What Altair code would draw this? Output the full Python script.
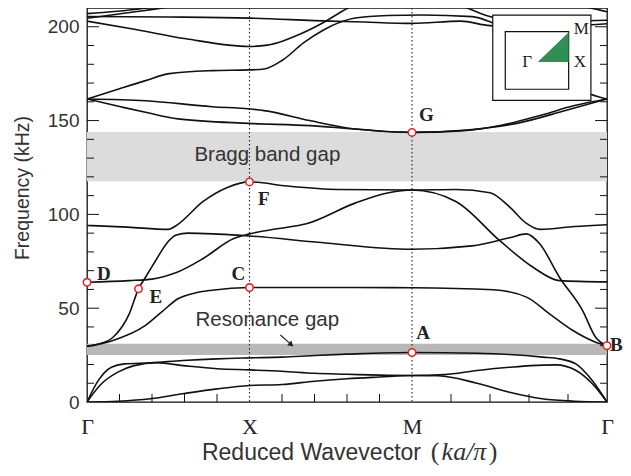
import altair as alt
import pandas as pd

# ---------------- data ----------------
# k: position along the path (Gamma=0, X=1, M=2, Gamma=3.2); f: frequency (kHz)
b1_k = [0, 0.19, 0.39, 0.59, 0.80, 1.0, 1.2, 1.40, 1.6, 1.8, 2.0, 2.16, 2.4, 2.6, 2.8, 3.0, 3.2]
b1_f = [0, 0.4, 1.7, 4.4, 7.0, 8.8, 9.3, 11.1, 12.4, 13.3, 14.1, 14.0, 10.0, 5.2, 1.7, 0.4, 0]
b2_k = [0, 0.089, 0.19, 0.29, 0.43, 0.59, 0.80, 1.0, 1.2, 1.4, 1.6, 1.8, 2.0, 2.2, 2.4, 2.6, 2.73, 2.885, 3.01, 3.11, 3.2]
b2_f = [0, 9.7, 15.9, 19.4, 20.9, 19.4, 17.7, 17.1, 16.4, 15.3, 14.8, 14.3, 14.1, 14.6, 16.8, 18.5, 19.4, 19.8, 16.8, 9.7, 0]
b3_k = [0, 0.07, 0.15, 0.23, 0.39, 0.59, 0.80, 1.0, 1.2, 1.4, 1.6, 2.0, 2.4, 2.6, 2.806, 2.907, 3.008, 3.109, 3.2]
b3_f = [0, 11.5, 18.5, 20.3, 20.9, 22.1, 23.0, 23.5, 23.9, 24.8, 25.5, 26.4, 26.0, 25.3, 23.9, 23.0, 20.3, 11.5, 0]
b4_k = [0, 0.16, 0.36, 0.46, 0.56, 0.66, 0.77, 1.0, 1.3, 1.65, 2.0, 2.5, 2.705, 2.846, 2.99, 3.13, 3.2]
b4_f = [29.7, 32.8, 40.8, 48.0, 55.0, 58.0, 59.6, 61.0, 61.0, 61.0, 60.9, 59.8, 55.9, 47.0, 38.1, 31.9, 30.0]
b5_k = [0, 0.08, 0.16, 0.26, 0.317, 0.36, 0.42, 0.46, 0.50, 0.55, 0.62, 0.8, 1.0, 1.44, 2.0, 2.37, 2.6, 2.705, 2.786, 2.907, 3.05, 3.13, 3.2]
b5_f = [29.7, 31.0, 34.5, 47.0, 60.3, 66.5, 75.0, 80.7, 85.5, 89.0, 90.0, 89.5, 88.5, 85.0, 81.4, 83.2, 87.5, 89.6, 84.3, 66.5, 48.7, 34.5, 30.0]
b6_k = [0, 0.26, 0.40, 0.47, 0.55, 0.715, 0.9, 1.0, 1.17, 1.35, 1.65, 1.856, 2.0, 2.27, 2.54, 2.745, 2.907, 3.2]
b6_f = [63.8, 64.7, 65.5, 66.8, 69.0, 76.5, 87.0, 89.6, 92.3, 95.0, 106.0, 111.5, 113.0, 106.9, 86.0, 71.8, 64.7, 64.0]
b7_k = [0, 0.25, 0.50, 0.55, 0.715, 0.86, 1.0, 1.233, 1.544, 2.0, 2.27, 2.48, 2.6, 2.7, 2.79, 3.0, 3.2]
b7_f = [94.1, 93.2, 92.0, 94.1, 106.9, 114.2, 117.3, 115.1, 113.3, 113.0, 113.3, 111.5, 104.0, 95.5, 92.0, 93.5, 94.5]
b8_k = [0, 0.2, 0.36, 0.56, 1.0, 1.37, 1.65, 2.0, 2.34, 2.645, 2.95, 3.2]
b8_f = [161.5, 157.5, 154.4, 150.9, 148.5, 147.3, 145.5, 143.7, 145.0, 148.5, 155.5, 161.5]
b9_k = [0, 0.36, 0.77, 1.0, 1.09, 1.37, 1.65, 2.0, 2.3, 2.55, 2.8, 3.0, 3.2]
b9_f = [161.5, 160.6, 157.4, 156.2, 155.3, 150.0, 145.5, 143.7, 144.5, 147.5, 153.0, 158.0, 161.5]
b10_k = [0, 0.3, 0.61, 1.0, 1.11, 1.34, 1.45, 1.607, 1.8, 2.0, 2.2, 2.34, 2.5, 2.8, 3.2]
b10_f = [203.0, 198.5, 193.6, 189.5, 190.2, 197.2, 202.0, 210.0, 216.0, 218.0, 215.0, 210.0, 205.0, 203.0, 203.5]
b11_k = [0, 0.2, 0.36, 0.507, 0.77, 1.0, 1.09, 1.2, 1.334, 1.45, 1.565, 1.65, 1.85, 2.06, 2.37, 2.48, 2.7, 2.95, 3.1, 3.2]
b11_f = [161.5, 167.0, 171.3, 175.0, 176.6, 177.0, 177.5, 182.0, 191.5, 198.0, 202.7, 204.7, 206.0, 206.3, 205.4, 202.7, 192.0, 172.0, 164.0, 161.5]
b12_k = [0, 0.5, 1.0, 1.5, 1.65, 2.0, 2.3, 2.48, 2.8, 3.2]
b12_f = [205.5, 205.2, 204.6, 203.0, 202.7, 201.8, 203.0, 200.6, 200.0, 201.6]
b13_k = [0, 0.32, 0.45, 0.7, 2.8, 3.05, 3.2]
b13_f = [207.0, 209.5, 211.0, 215.0, 215.0, 211.0, 208.0]
b14_k = [0, 0.25, 0.5, 0.7]
b14_f = [204.5, 207.5, 210.5, 214.0]

band_list = [(b1_k, b1_f), (b2_k, b2_f), (b3_k, b3_f), (b4_k, b4_f), (b5_k, b5_f),
             (b6_k, b6_f), (b7_k, b7_f), (b8_k, b8_f), (b9_k, b9_f), (b10_k, b10_f),
             (b11_k, b11_f), (b12_k, b12_f), (b13_k, b13_f), (b14_k, b14_f)]

gap_lo = [117.6, 25.1]
gap_hi = [143.9, 31.0]
gap_color = ["#dcdcdc", "#b8b8b8"]

pt_name = ["D", "E", "C", "F", "G", "A", "B"]
pt_k = [0.0, 0.317, 1.0, 1.0, 2.0, 2.0, 3.2]
pt_f = [63.8, 60.3, 61.0, 117.3, 143.7, 26.4, 30.0]
lab_k = [0.103, 0.424, 0.932, 1.088, 2.089, 2.068, 3.258]
lab_f = [68.2, 56.1, 68.0, 108.2, 153.0, 36.6, 30.4]

sym_k = [1.0, 2.0]
tick_k_minor = [0.2, 0.4, 0.6, 0.8, 1.2, 1.4, 1.6, 1.8, 2.24, 2.48, 2.72, 2.96]
tick_f_minor = [10, 20, 30, 40, 60, 70, 80, 90, 110, 120, 130, 140, 160, 170, 180, 190]
tick_f_major = [50, 100, 150, 200]

inset_outer = dict(k=[2.497], k2=[3.101], f=[160.8], f2=[206.2])
inset_inner = dict(k=[2.574], k2=[2.964], f=[166.7], f2=[197.4])
tri_k = [2.774, 2.964]
tri_f = [181.2, 197.1]
tri_f2 = [181.2, 181.2]
inset_lab = ["M", "X", "Γ"]
inset_lab_k = [3.042, 3.033, 2.709]
inset_lab_f = [198.8, 181.2, 181.2]

# ---------------- tables ----------------
rows = []
for bi, (ks, fs) in enumerate(band_list):
    for i, (k, f) in enumerate(zip(ks, fs)):
        rows.append({"band": f"b{bi+1}", "i": i, "k": k, "f": f})
bands_df = pd.DataFrame(rows)
gaps_df = pd.DataFrame({"lo": gap_lo, "hi": gap_hi, "c": gap_color})
pts_df = pd.DataFrame({"name": pt_name, "k": pt_k, "f": pt_f})
labs_df = pd.DataFrame({"name": pt_name, "k": lab_k, "f": lab_f})

W, H = 520, 394
XS = alt.Scale(domain=[0, 3.2], nice=False, zero=False)
YS = alt.Scale(domain=[0, 210], nice=False, zero=False)
x_axis = alt.Axis(values=[0, 1, 2, 3.2],
                  labelExpr="datum.value == 0 ? 'Γ' : datum.value == 1 ? 'X' : datum.value == 2 ? 'M' : 'Γ'",
                  ticks=False, tickSize=0, domain=False, grid=False, title=None,
                  labelFont="Liberation Serif", labelFontSize=22, labelColor="#222",
                  labelPadding=14, labelFlush=False, labelOverlap=False)
y_axis = alt.Axis(values=[0, 50, 100, 150, 200], ticks=False, tickSize=0, domain=False, grid=False,
                  labelFont="Liberation Sans", labelFontSize=19, labelColor="#333", labelPadding=8,
                  title="Frequency (kHz)", titleFont="Liberation Sans", titleFontSize=19.5,
                  titleFontWeight="normal", titleColor="#333", titleX=-59, titleY=179.5,
                  titleBaseline="alphabetic")
X = alt.X("k:Q", scale=XS, axis=x_axis)
Y = alt.Y("f:Q", scale=YS, axis=y_axis)

gaps = alt.Chart(gaps_df).mark_rect().encode(
    x=alt.value(0), x2=alt.value(W), y=alt.Y("lo:Q", scale=YS, axis=y_axis), y2="hi:Q",
    color=alt.Color("c:N", scale=None))

sym = alt.Chart(pd.DataFrame({"k": sym_k})).mark_rule(
    color="#222", strokeWidth=1.1, strokeDash=[1.5, 2.5]).encode(x=X, y=alt.value(0), y2=alt.value(H))

lines = alt.Chart(bands_df).mark_line(
    interpolate="monotone", color="#111", strokeWidth=1.6, clip=True).encode(
    x=X, y=Y, detail="band:N", order="i:Q")

outer = alt.Chart(pd.DataFrame(inset_outer)).mark_rect(
    fill="white", stroke="#111", strokeWidth=1.2).encode(
    x=X, x2="k2:Q", y=Y, y2="f2:Q")
inner = alt.Chart(pd.DataFrame(inset_inner)).mark_rect(
    fillOpacity=0, stroke="#111", strokeWidth=1.2).encode(
    x=X, x2="k2:Q", y=Y, y2="f2:Q")
tri = alt.Chart(pd.DataFrame({"k": tri_k, "f": tri_f, "f2": tri_f2})).mark_area(
    color="#2f8f55", opacity=1).encode(x=X, y=Y, y2="f2:Q")
inset_txt = alt.Chart(pd.DataFrame({"t": inset_lab, "k": inset_lab_k, "f": inset_lab_f})).mark_text(
    font="Liberation Serif", fontSize=17, color="#222", baseline="middle").encode(x=X, y=Y, text="t:N")

# axis ticks (inward)
t_bottom = alt.Chart(pd.DataFrame({"k": tick_k_minor})).mark_rule(color="#111", strokeWidth=1).encode(
    x=X, y=alt.value(H), y2=alt.value(H - 8))
t_left_minor = alt.Chart(pd.DataFrame({"f": tick_f_minor})).mark_rule(color="#111", strokeWidth=1).encode(
    y=Y, x=alt.value(0), x2=alt.value(7))
t_left_major = alt.Chart(pd.DataFrame({"f": tick_f_major})).mark_rule(color="#111", strokeWidth=1).encode(
    y=Y, x=alt.value(0), x2=alt.value(12))
t_right_minor = alt.Chart(pd.DataFrame({"f": tick_f_minor})).mark_rule(color="#111", strokeWidth=1).encode(
    y=Y, x=alt.value(W), x2=alt.value(W - 7))
t_right_major = alt.Chart(pd.DataFrame({"f": tick_f_major})).mark_rule(color="#111", strokeWidth=1).encode(
    y=Y, x=alt.value(W), x2=alt.value(W - 12))

gap_txt = alt.Chart(pd.DataFrame({"t": ["Bragg band gap", "Resonance gap"], "k": [1.11, 1.11],
                                  "f": [131.7, 43.7]})).mark_text(
    font="Liberation Sans", fontSize=20.5, color="#333", baseline="middle").encode(x=X, y=Y, text="t:N")

arrow = alt.Chart(pd.DataFrame({"k": [1.190], "k2": [1.257], "f": [35.7], "f2": [30.6]})).mark_rule(
    color="#222", strokeWidth=1.2).encode(x=X, x2="k2:Q", y=Y, y2="f2:Q")
arrow_head = alt.Chart(pd.DataFrame({"k": [1.257], "f": [30.6]})).mark_point(
    shape="triangle-up", angle=131, filled=True, color="#222", size=40, opacity=1).encode(x=X, y=Y)

pts = alt.Chart(pts_df).mark_point(
    shape="circle", filled=True, fill="white", stroke="#e0282e", strokeWidth=1.6, size=55, opacity=1).encode(
    x=X, y=Y)
pt_txt = alt.Chart(labs_df).mark_text(
    font="Liberation Serif", fontWeight="bold", fontSize=19, color="#222", baseline="middle").encode(
    x=X, y=Y, text="name:N")

xt1 = alt.Chart(pd.DataFrame({"t": ["Reduced Wavevector"]})).mark_text(
    font="Liberation Sans", fontSize=23, color="#333", align="right", baseline="alphabetic").encode(
    x=alt.value(334), y=alt.value(452), text="t:N")
xt2 = alt.Chart(pd.DataFrame({"t": ["("]})).mark_text(
    font="Liberation Serif", fontSize=26, color="#333", align="center", baseline="alphabetic").encode(
    x=alt.value(348), y=alt.value(452), text="t:N")
xt3 = alt.Chart(pd.DataFrame({"t": ["ka/π"]})).mark_text(
    font="Liberation Serif", fontStyle="italic", fontSize=26, color="#333", align="center",
    baseline="alphabetic").encode(x=alt.value(377), y=alt.value(452), text="t:N")
xt4 = alt.Chart(pd.DataFrame({"t": [")"]})).mark_text(
    font="Liberation Serif", fontSize=26, color="#333", align="center", baseline="alphabetic").encode(
    x=alt.value(406), y=alt.value(452), text="t:N")

chart = alt.layer(
    gaps, sym, lines, t_bottom, t_left_minor, t_left_major, t_right_minor, t_right_major,
    outer, inner, tri, inset_txt, gap_txt, arrow, arrow_head, pts, pt_txt, xt1, xt2, xt3, xt4
).properties(
    width=W, height=H,
    autosize=alt.AutoSizeParams(type="none"),
    padding={"left": 79, "top": 0, "right": 16, "bottom": 66},
    background="white"
).configure_view(stroke="#111", strokeWidth=1.3)

chart.save("out.html", embed_options={"renderer": "svg", "actions": False})
